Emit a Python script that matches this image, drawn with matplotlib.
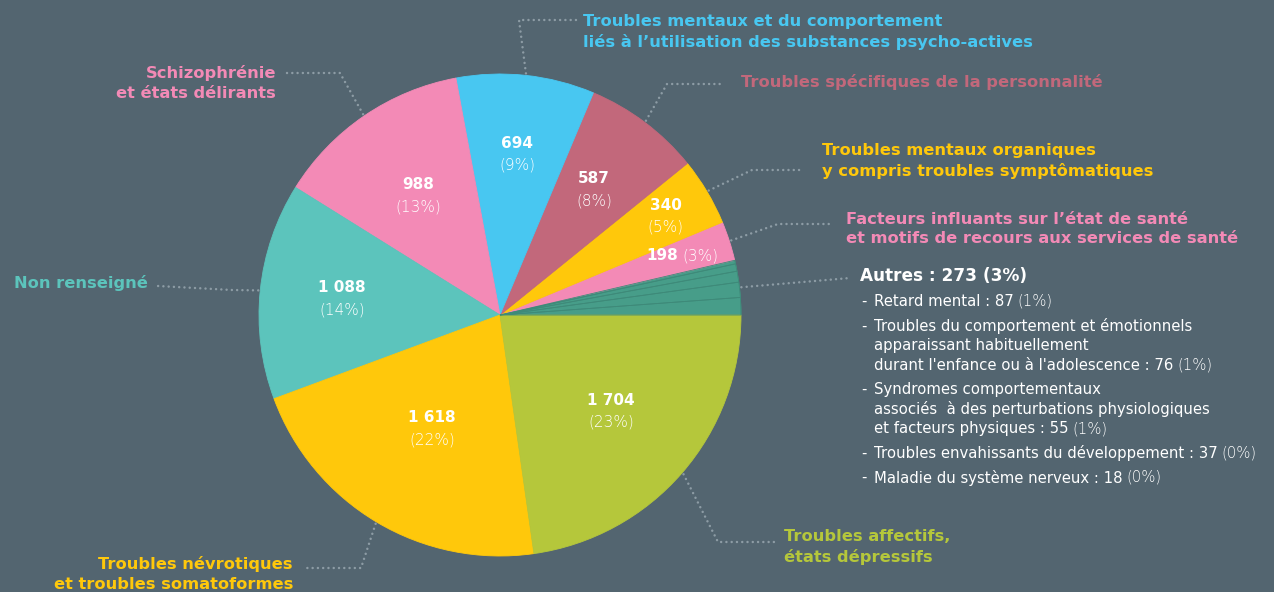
import numpy as np
import matplotlib

matplotlib.use("Agg")
import matplotlib.pyplot as plt

W, H = 1274, 592
BG = "#536570"
LEADER = "#8d9ca5"

# Slices, counter-clockwise from 3 o'clock
categories = [
    "Autres",
    "Facteurs influants sur l\u2019état de santé\net motifs de recours aux services de santé",
    "Troubles mentaux organiques\ny compris troubles symptômatiques",
    "Troubles spécifiques de la personnalité",
    "Troubles mentaux et du comportement\nliés à l\u2019utilisation des substances psycho-actives",
    "Schizophrénie\net états délirants",
    "Non renseigné",
    "Troubles névrotiques\net troubles somatoformes",
    "Troubles affectifs,\nétats dépressifs",
]
values = [273, 198, 340, 587, 694, 988, 1088, 1618, 1704]
percents = ["3%", "3%", "5%", "8%", "9%", "13%", "14%", "22%", "23%"]
colors = ["#479d89", "#f38ab6", "#ffc80b", "#c2687b", "#48c7f1",
          "#f38ab6", "#5cc4bc", "#ffc80b", "#b5c73b"]

autres_items = [
    ("Retard mental : 87", "(1%)"),
    ("Troubles du comportement et émotionnels\napparaissant habituellement\n"
     "durant l'enfance ou à l'adolescence : 76", "(1%)"),
    ("Syndromes comportementaux\nassociés  à des perturbations physiologiques\n"
     "et facteurs physiques : 55", "(1%)"),
    ("Troubles envahissants du développement : 37", "(0%)"),
    ("Maladie du système nerveux : 18", "(0%)"),
]
autres_values = [87, 76, 55, 37, 18]

FONT = "DejaVu Sans"
CX, CY, R = 500, 315, 241


def P(x, y):
    """pixel coords (origin top-left) -> data coords"""
    return x, H - y


fig = plt.figure(figsize=(W / 100, H / 100), dpi=100, facecolor=BG)
ax = fig.add_axes([0, 0, 1, 1])
ax.set_facecolor(BG)

wedges, _ = ax.pie(values, colors=colors, startangle=0, counterclock=True,
                   center=P(CX, CY), radius=R)
# edge in own colour so no background seams show between slices
for w, c in zip(wedges, colors):
    w.set_edgecolor(c)
    w.set_linewidth(0.6)

# thin sub-divisions of the "Autres" slice
total = sum(values)
sub, _ = ax.pie(autres_values + [total - sum(autres_values)], startangle=0,
                counterclock=True, center=P(CX, CY), radius=R,
                colors=["none"] * 6,
                wedgeprops=dict(linewidth=0.6, edgecolor="#3e8a79"))
sub[-1].set_visible(False)

ax.set_xlim(0, W)
ax.set_ylim(0, H)
ax.set_aspect("equal")
ax.axis("off")

renderer = fig.canvas.get_renderer()


def pair(x, y, a, b, gap=4, **kw):
    """draw a then b right after it (b lighter)"""
    wa = kw.pop("wa", "normal")
    wb = kw.pop("wb", "light")
    t = ax.text(x, y, a, fontweight=wa, **kw)
    bb = t.get_window_extent(renderer)
    ax.text(bb.x1 + gap, y, b, fontweight=wb, **kw)


# value labels inside slices
mids = []
cum = 0
for v in values:
    mids.append(np.deg2rad((cum + v / 2) / total * 360))
    cum += v
inner_r = [None, 0.80, 0.80, 0.65, 0.67, 0.60, 0.66, 0.55, 0.61]
VAL_FS = 11
for i, v in enumerate(values):
    if inner_r[i] is None:
        continue
    x = CX + inner_r[i] * R * np.cos(mids[i])
    y = CY - inner_r[i] * R * np.sin(mids[i])
    txt = f"{v:,}".replace(",", " ")
    if i == 1:
        t = ax.text(*P(x - 37, y), txt, color="white", fontsize=VAL_FS,
                    fontweight="bold", family=FONT, ha="left", va="center")
        bb = t.get_window_extent(renderer)
        ax.text(bb.x1 + 4, H - y, f"({percents[i]})", color="white",
                fontsize=VAL_FS, fontweight="light", family=FONT, va="center")
        continue
    ax.text(*P(x, y - 11), txt, color="white", fontsize=VAL_FS,
            fontweight="bold", family=FONT, ha="center", va="center")
    ax.text(*P(x, y + 11), f"({percents[i]})", color="white",
            fontsize=VAL_FS, fontweight="light", family=FONT, ha="center",
            va="center")

# outer labels: (elbow, end of leader, text anchor, alignment)
outer = {
    1: ((778, 224), (832, 224), (846, 229), "left"),
    2: ((752, 170), (802, 170), (822, 161), "left"),
    3: ((667, 84), (722, 84), (741, 82), "left"),
    4: ((519, 20), (578, 20), (583, 32), "left"),
    5: ((340, 73), (284, 73), (276, 83), "right"),
    6: ((232, 290), (158, 286), (148, 283), "right"),
    7: ((361, 568), (303, 568), (293, 574), "right"),
    8: ((718, 542), (775, 542), (784, 547), "left"),
}
for i, (elbow, end, anchor, ha) in outer.items():
    sx = CX + (R + 2) * np.cos(mids[i])
    sy = CY - (R + 2) * np.sin(mids[i])
    xs = [sx, elbow[0], end[0]]
    ys = [H - sy, H - elbow[1], H - end[1]]
    ax.plot(xs, ys, color=LEADER, linewidth=1.8, linestyle=(0, (0.01, 2.1)),
            dash_capstyle="round", solid_capstyle="round")
    ax.text(*P(*anchor), categories[i], color=colors[i], fontsize=11.7,
            fontweight="bold", family=FONT, ha=ha, va="center",
            linespacing=1.35, multialignment=ha)

# "Autres" leader and breakdown
sx = CX + (R + 2) * np.cos(mids[0])
sy = CY - (R + 2) * np.sin(mids[0])
ax.plot([sx, 850], [H - sy, H - 278], color=LEADER, linewidth=1.8,
        linestyle=(0, (0.01, 2.1)), dash_capstyle="round")
ax.text(*P(860, 276), f"Autres : {values[0]} ({percents[0]})", color="white",
        fontsize=12.2, fontweight="bold", family=FONT, va="center")

LIST_FS = 10.7
item_y = [301, 326, 389.5, 453, 477.5]
for (label, pct), y0 in zip(autres_items, item_y):
    lines = label.split("\n")
    ax.text(*P(861, y0), "-", color="white", fontsize=LIST_FS, family=FONT,
            va="center")
    for k, line in enumerate(lines):
        y = y0 + k * 19.5
        if k == len(lines) - 1:
            pair(874, H - y, line, pct, gap=4, color="white",
                 fontsize=LIST_FS, family=FONT, va="center")
        else:
            ax.text(*P(874, y), line, color="white", fontsize=LIST_FS,
                    family=FONT, va="center")

fig.savefig("out.png", dpi=100, facecolor=BG)
plt.close(fig)
